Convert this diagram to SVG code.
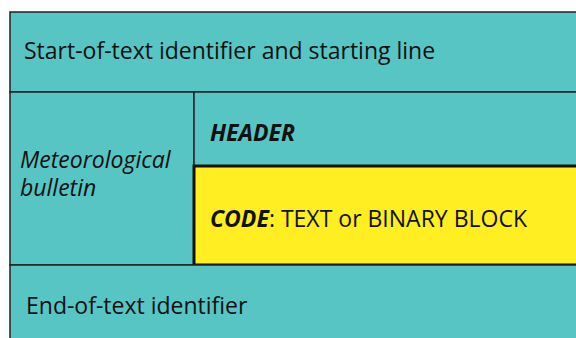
<svg xmlns="http://www.w3.org/2000/svg" width="576" height="338" viewBox="0 0 576 338">
<style>
.t{font-family:"Open Sans","Noto Sans",sans-serif;font-size:23px;fill:#111}
.i{font-style:italic}
.b{font-weight:bold}
.ln{stroke:#222;stroke-width:1.5;fill:#56c5c3}
</style>
<rect width="576" height="338" fill="#ffffff"/>
<g id="start">
<rect x="10" y="12" width="570" height="80" class="ln"/>
<text class="t" x="24" y="59">Start-of-text identifier and starting line</text>
</g>
<g id="bulletin">
<rect x="10" y="92" width="184" height="173" class="ln"/>
<text class="t i" x="20" y="168">Meteorological</text>
<text class="t i" x="20" y="196">bulletin</text>
</g>
<g id="header">
<rect x="194" y="92" width="386" height="74" class="ln"/>
<text class="t i b" x="210" y="141">HEADER</text>
</g>
<g id="code">
<rect x="194" y="166" width="386" height="99" fill="#ffee22" stroke="#111" stroke-width="3"/>
<text class="t" x="210" y="227"><tspan class="i b">CODE</tspan>: TEXT or BINARY BLOCK</text>
</g>
<g id="end">
<rect x="10" y="265" width="570" height="80" class="ln"/>
<text class="t" x="26" y="314">End-of-text identifier</text>
</g>
<g id="connectors"></g>
</svg>
